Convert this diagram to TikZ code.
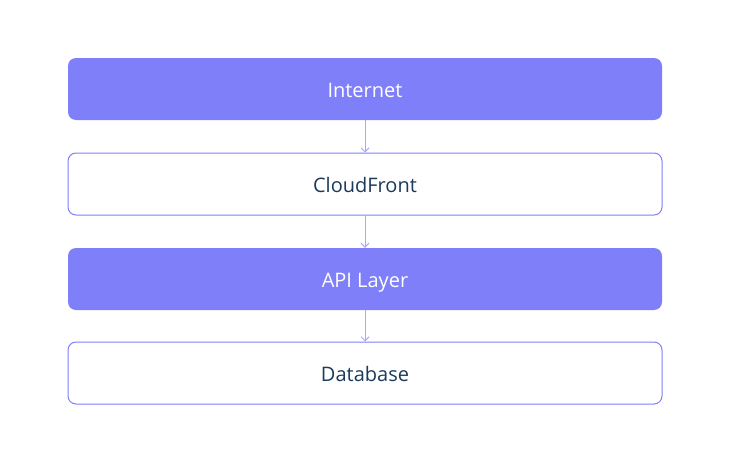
\documentclass[tikz,border=0pt]{standalone}
\usepackage{fontspec}
\setmainfont{Open Sans}
\usetikzlibrary{arrows.meta}
\definecolor{boxfill}{HTML}{7F7FFA}
\definecolor{boxline}{HTML}{7F7FFA}
\definecolor{darktext}{HTML}{1B3A5C}
\definecolor{arrowc}{HTML}{A8A8FC}
\tikzset{
  base/.style={rounded corners=8pt, minimum width=594pt, minimum height=62pt, inner sep=0pt, font=\fontsize{20}{22}\selectfont, text height=17pt, text depth=0pt},
  filledbox/.style={base, fill=boxfill, draw=none, text=white},
  plainbox/.style={base, fill=white, draw=boxline, line width=1pt, text=darktext},
  conn/.style={draw=arrowc, line width=1pt, -{Straight Barb[length=4pt,width=8pt]}}
}
\begin{document}
\begin{tikzpicture}[x=1pt,y=-1pt]
\useasboundingbox (0,0) rectangle (730,463);
\node[filledbox] (internet) at (365,89) {Internet};
\node[plainbox] (cloudfront) at (365,184) {CloudFront};
\node[filledbox] (api) at (365,279) {API Layer};
\node[plainbox] (db) at (365,373) {Database};
\draw[conn] (internet) -- (cloudfront);
\draw[conn] (cloudfront) -- (api);
\draw[conn] (api) -- (db);
\end{tikzpicture}
\end{document}
